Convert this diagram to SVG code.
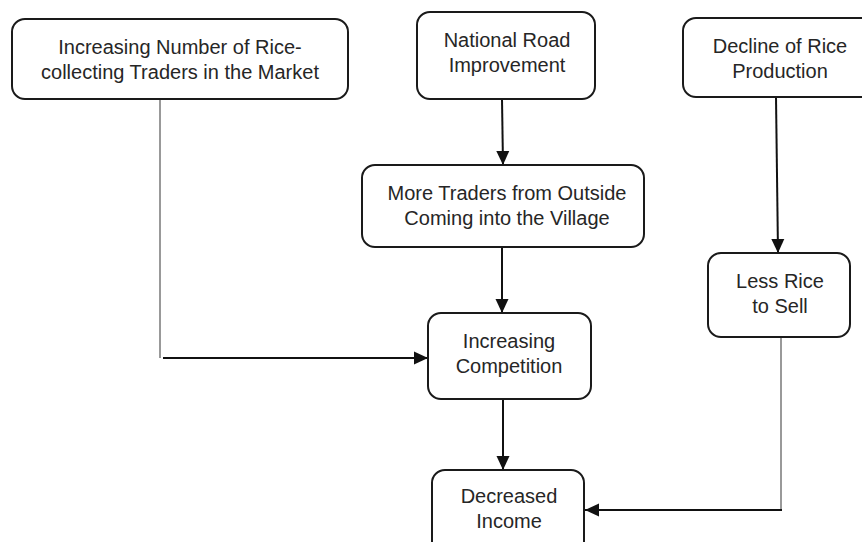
<svg xmlns="http://www.w3.org/2000/svg" width="862" height="542" viewBox="0 0 862 542">
<defs>
<marker id="arr" viewBox="0 0 14 14" refX="14" refY="7" markerWidth="14" markerHeight="14" markerUnits="userSpaceOnUse" orient="auto">
<path d="M0,0.5 L14,7 L0,13.5 Z" fill="#111"/>
</marker>
<style>
.box{fill:#fff;stroke:#1a1a1a;stroke-width:2}
.t{font-family:"Liberation Sans",Arial,sans-serif;font-size:20px;fill:#262626;text-anchor:middle}
.c{fill:none;stroke:#111;stroke-width:2}
.g{fill:none;stroke:#777;stroke-width:1.5}
</style>
</defs>
<rect width="862" height="542" fill="#fff"/>
<g id="connectors">
<line class="c" x1="502" y1="99" x2="503" y2="165" marker-end="url(#arr)"/>
<line class="c" x1="502" y1="247" x2="502" y2="313" marker-end="url(#arr)"/>
<line class="c" x1="503" y1="399" x2="503" y2="470" marker-end="url(#arr)"/>
<line class="c" x1="776" y1="97" x2="778" y2="253" marker-end="url(#arr)"/>
<line class="g" x1="160" y1="99" x2="160" y2="358"/>
<line class="c" x1="163" y1="358" x2="428" y2="358" marker-end="url(#arr)"/>
<line class="g" x1="781" y1="337" x2="781" y2="510"/>
<line class="c" x1="782" y1="510" x2="585" y2="510" marker-end="url(#arr)"/>
</g>
<g id="n1">
<rect class="box" x="12" y="19" width="336" height="80" rx="13"/>
<text class="t" x="180" y="54">Increasing Number of Rice-</text>
<text class="t" x="180" y="79">collecting Traders in the Market</text>
</g>
<g id="n2">
<rect class="box" x="417" y="12" width="178" height="87" rx="13"/>
<text class="t" x="507" y="47">National Road</text>
<text class="t" x="507" y="72">Improvement</text>
</g>
<g id="n3">
<rect class="box" x="683" y="18" width="195" height="79" rx="13"/>
<text class="t" x="780" y="53">Decline of Rice</text>
<text class="t" x="780" y="78">Production</text>
</g>
<g id="n4">
<rect class="box" x="362" y="165" width="282" height="82" rx="13"/>
<text class="t" x="507" y="200">More Traders from Outside</text>
<text class="t" x="507" y="225">Coming into the Village</text>
</g>
<g id="n5">
<rect class="box" x="428" y="313" width="163" height="86" rx="13"/>
<text class="t" x="509" y="348">Increasing</text>
<text class="t" x="509" y="373">Competition</text>
</g>
<g id="n6">
<rect class="box" x="708" y="253" width="142" height="84" rx="13"/>
<text class="t" x="780" y="288">Less Rice</text>
<text class="t" x="780" y="313">to Sell</text>
</g>
<g id="n7">
<rect class="box" x="432" y="470" width="152" height="85" rx="13"/>
<text class="t" x="509" y="503">Decreased</text>
<text class="t" x="509" y="528">Income</text>
</g>
</svg>
